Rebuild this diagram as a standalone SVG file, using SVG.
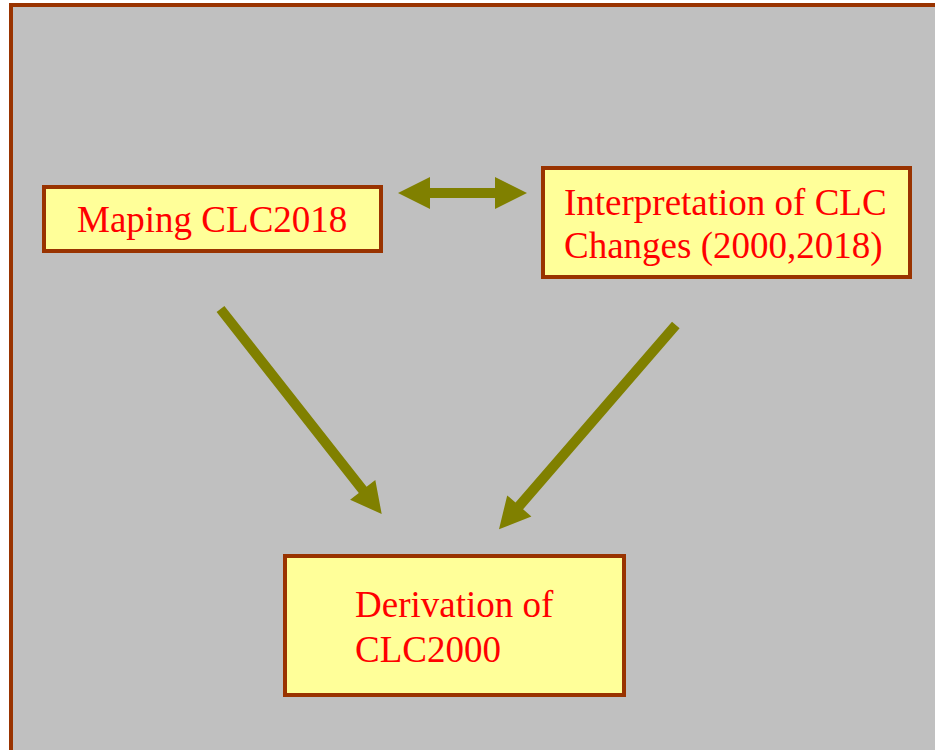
<svg xmlns="http://www.w3.org/2000/svg" width="935" height="750" viewBox="0 0 935 750">
<style>
.box{fill:#FFFF99;stroke:#993300;stroke-width:4}
.lbl{font-family:"Liberation Serif","Times New Roman",serif;font-size:37px;fill:#FF0000}
.arr{fill:#808000}
</style>
<rect x="0" y="0" width="935" height="750" fill="#FFFFFF"/>
<rect id="frame" x="11" y="5" width="930" height="752" fill="#C0C0C0" stroke="#993300" stroke-width="4"/>
<g id="connectors">
<polygon class="arr" points="398,193 430,177 430,188 495,188 495,177 527,193 495,209 495,198 430,198 430,209"/>
<polygon class="arr" points="216.6,312.1 224.4,305.9 366.6,486.8 375.3,480.0 381.7,514 350.1,499.8 358.8,493.0"/>
<polygon class="arr" points="672.0,321.7 679.6,328.3 523.1,509.2 531.4,516.4 499,529.3 507.2,495.4 515.5,502.6"/>
</g>
<g id="node-maping">
<rect class="box" x="44" y="187" width="337" height="64"/>
<text class="lbl" x="77" y="232">Maping CLC2018</text>
</g>
<g id="node-interpretation">
<rect class="box" x="543" y="168" width="367" height="109"/>
<text class="lbl" x="564" y="215">Interpretation of CLC</text>
<text class="lbl" x="564" y="258">Changes (2000,2018)</text>
</g>
<g id="node-derivation">
<rect class="box" x="285" y="556" width="339" height="139"/>
<text class="lbl" x="355" y="617">Derivation of</text>
<text class="lbl" x="355" y="662">CLC2000</text>
</g>
</svg>
